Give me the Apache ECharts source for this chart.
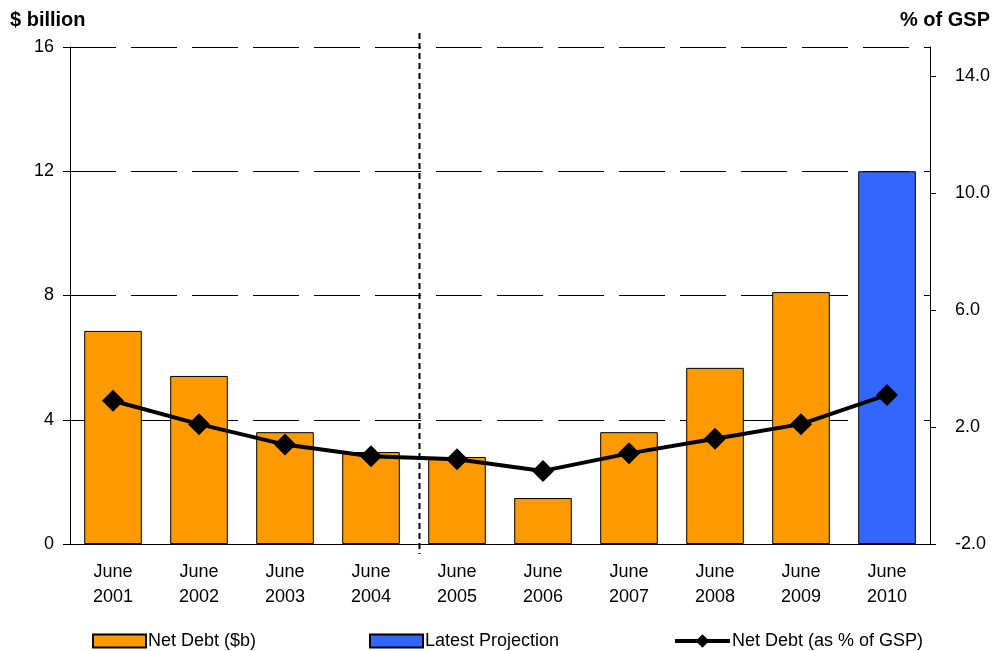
<!DOCTYPE html>
<html>
<head>
<meta charset="utf-8">
<script src="https://cdn.jsdelivr.net/npm/echarts@6/dist/echarts.min.js"></script>
<style>html,body{margin:0;padding:0;background:#fff;}#c{width:994px;height:651px;}</style>
</head>
<body>
<div id="c"></div>
<script>
var categories = ['June\n2001','June\n2002','June\n2003','June\n2004','June\n2005','June\n2006','June\n2007','June\n2008','June\n2009','June\n2010'];
var netDebt = [6.86, 5.41, 3.6, 2.96, 2.8, 1.48, 3.6, 5.67, 8.11, null];
var projection = [null, null, null, null, null, null, null, null, null, 12.0];
var pctGSP = [2.9, 2.1, 1.4, 1.0, 0.9, 0.5, 1.1, 1.6, 2.1, 3.1];
var leftTicks = {min: 0, max: 16, interval: 4};
var rightTicks = {min: -2, max: 15, interval: 4};

var FONT = '"Liberation Sans", Arial, sans-serif';
var legendText = {fontFamily: FONT, fontSize: 18, color: '#000', padding: [0, 0, 0, -3]};
function mkLegend(left, name, icon) {
  return {left: left, top: 632, padding: 0, itemWidth: 53, itemHeight: 13, icon: icon,
    textStyle: legendText, selectedMode: false, data: [name]};
}
var chart = echarts.init(document.getElementById('c'));
chart.setOption({
  animation: false,
  backgroundColor: '#fff',
  textStyle: {fontFamily: FONT},
  grid: {left: 70, right: 64, top: 47, bottom: 107},
  legend: [
    mkLegend(92, 'Net Debt ($b)', 'rect'),
    mkLegend(369, 'Latest Projection', 'rect'),
    {left: 673, top: 632, padding: 0, itemWidth: 55, itemHeight: 17, textStyle: legendText, selectedMode: false,
     data: [{name: 'Net Debt (as % of GSP)', lineStyle: {width: 4, color: '#000'}, itemStyle: {color: '#000'}}]}
  ],
  xAxis: [{
    type: 'category', data: categories,
    axisLine: {lineStyle: {color: '#000', width: 1}},
    axisTick: {length: 7, lineStyle: {color: '#000'}},
    axisLabel: {color: '#000', fontSize: 18, lineHeight: 25, margin: 16, fontFamily: FONT},
    splitLine: {show: false}
  }],
  yAxis: [{
    type: 'value', min: leftTicks.min, max: leftTicks.max, interval: leftTicks.interval,
    axisLine: {show: true, lineStyle: {color: '#000'}},
    axisTick: {show: true, length: 7, lineStyle: {color: '#000'}},
    axisLabel: {color: '#000', fontSize: 18, margin: 16, fontFamily: FONT},
    splitLine: {show: true, lineStyle: {color: '#000', width: 1, type: [46, 15]}}
  }, {
    type: 'value', min: rightTicks.min, max: rightTicks.max, interval: rightTicks.interval,
    position: 'right',
    axisLine: {show: true, lineStyle: {color: '#000'}},
    axisTick: {show: true, length: 6, lineStyle: {color: '#000'}},
    axisLabel: {color: '#000', fontSize: 18, margin: 25, fontFamily: FONT, showMaxLabel: false,
      formatter: function (v) { return v.toFixed(1); }},
    splitLine: {show: false}
  }],
  series: [{
    name: 'Net Debt ($b)', type: 'bar', stack: 'debt', data: netDebt, barWidth: '67%',
    itemStyle: {color: '#FF9900', borderColor: '#000', borderWidth: 1}
  }, {
    name: 'Latest Projection', type: 'bar', stack: 'debt', data: projection, barWidth: '67%',
    itemStyle: {color: '#3366FF', borderColor: '#000', borderWidth: 1}
  }, {
    name: 'Net Debt (as % of GSP)', type: 'line', yAxisIndex: 1, data: pctGSP,
    symbol: 'diamond', symbolSize: 22, z: 5,
    lineStyle: {color: '#000', width: 4},
    itemStyle: {color: '#000'}
  }]
});

// vertical dashed divider between actuals and projections
var p3 = chart.convertToPixel({xAxisIndex: 0}, 3);
var p4 = chart.convertToPixel({xAxisIndex: 0}, 4);
var yTop = chart.convertToPixel({yAxisIndex: 0}, leftTicks.max);
var yBot = chart.convertToPixel({yAxisIndex: 0}, leftTicks.min);
var xd = Math.round(p3 + 0.56 * (p4 - p3)) + 0.5;
chart.setOption({
  graphic: [
    {type: 'text', left: 10, top: 10, style: {text: '$ billion', font: 'bold 20px ' + FONT, fill: '#000'}},
    {type: 'text', right: 4, top: 10, style: {text: '% of GSP', font: 'bold 20px ' + FONT, fill: '#000'}},
    {type: 'line', z: 10, shape: {x1: xd, y1: yTop - 14, x2: xd, y2: yBot + 10},
     style: {stroke: '#000', lineWidth: 2, lineDash: [6, 4]}}
  ]
});
</script>
</body>
</html>
